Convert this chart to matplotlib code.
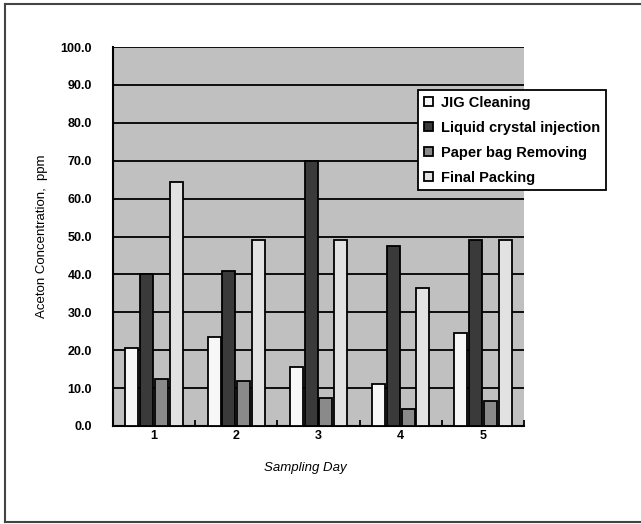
import matplotlib
matplotlib.use('Agg')
import matplotlib.pyplot as plt
from matplotlib.lines import Line2D
import numpy as np

plt.rcParams['font.family'] = ['Liberation Sans', 'DejaVu Sans']

days = ['1', '2', '3', '4', '5']
series = ['JIG Cleaning', 'Liquid crystal injection', 'Paper bag Removing', 'Final Packing']
jig = [20.5, 23.5, 15.5, 11.0, 24.5]
liquid = [40.0, 41.0, 70.0, 47.5, 49.0]
paper = [12.5, 12.0, 7.5, 4.5, 6.5]
final = [64.5, 49.0, 49.0, 36.5, 49.0]
colors = ['#f7f7f7', '#3a3a3a', '#8a8a8a', '#e2e2e2']

fig = plt.figure(figsize=(6.41, 5.24), dpi=100)
ax = fig.add_axes([113 / 641, 98 / 524, 411 / 641, 379 / 524])
ax.set_facecolor('#c0c0c0')

x = np.arange(len(days))
w = 0.16
step = 0.18
for i, (vals, col, name) in enumerate(zip([jig, liquid, paper, final], colors, series)):
    ax.bar(x + (i - 1.5) * step, vals, w, color=col, edgecolor='black',
           linewidth=1.3, label=name, zorder=3)

ax.set_ylim(0, 100)
ax.set_xlim(-0.5, 4.5)
ax.set_yticks(np.arange(0, 101, 10))
ax.set_yticklabels([f'{v:.1f}' for v in np.arange(0, 101, 10)], fontsize=9, fontweight='bold')
ax.yaxis.grid(True, color='black', linewidth=1.3, zorder=1)
ax.set_axisbelow(True)

# day labels at the centres, tick marks on the group boundaries
ax.set_xticks(x)
ax.set_xticklabels(days, fontsize=9, fontweight='bold')
ax.tick_params(axis='x', length=0, pad=3)
ax.tick_params(axis='y', length=0, pad=15)
ax.set_xticks(np.arange(-0.5, 4.6, 1), minor=True)
ax.tick_params(axis='x', which='minor', direction='in', length=4, width=1.3, color='black')

for s in ['top', 'right']:
    ax.spines[s].set_visible(False)
for s in ['left', 'bottom']:
    ax.spines[s].set_linewidth(1.5)

ax.set_ylabel('Aceton Concentration,  ppm', fontsize=9.5, labelpad=9)
ax.set_xlabel('Sampling Day', fontsize=9.5, style='italic')
ax.xaxis.set_label_coords(0.468, -0.095)

handles = [plt.Rectangle((0, 0), 1, 1, facecolor=c, edgecolor='black', linewidth=1.3)
           for c in colors]
leg = ax.legend(handles, series, loc='upper left',
                bbox_to_anchor=(418 / 641, 1 - 90 / 524), bbox_transform=fig.transFigure,
                prop={'weight': 'bold', 'size': 10.5},
                frameon=True, fancybox=False, framealpha=1, edgecolor='black',
                handlelength=0.6, handleheight=0.6, handletextpad=0.6,
                labelspacing=0.75, borderpad=0.4, borderaxespad=0)
leg.get_frame().set_linewidth(1.3)
leg.set_zorder(5)

# outer frame of the figure (open on the right)
for xs, ys in [([5, 5], [4, 522]), ([5, 641], [4, 4]), ([5, 641], [522, 522])]:
    fig.add_artist(Line2D([v / 641 for v in xs], [1 - v / 524 for v in ys],
                          color='#444444', linewidth=1.5))

fig.savefig('out.png', dpi=100)
